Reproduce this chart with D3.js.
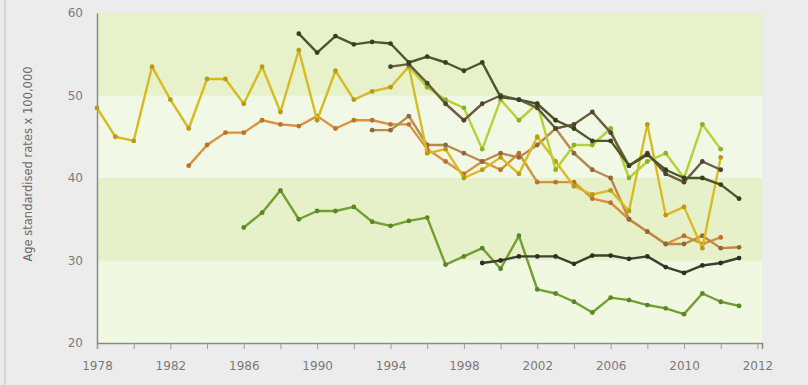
<!DOCTYPE html>
<html><head><meta charset="utf-8">
<script src="https://cdn.jsdelivr.net/npm/d3@7"></script>
<style>
html,body{margin:0;padding:0;background:#ececec;}
svg{display:block;}
</style></head>
<body>
<svg id="chart" width="808" height="385"></svg>
<script>
// ---- data ----
const yTicks = [20, 30, 40, 50, 60];
const xTickYears = [1978, 1982, 1986, 1990, 1994, 1998, 2002, 2006, 2010, 2014];
const xTickLabels = ["1978", "1982", "1986", "1990", "1994", "1998", "2002", "2006", "2010", "2012"];
const yLabel = "Age standardised rates x 100,000";

const goldStart = 1978;
const goldValues = [48.5, 45, 44.5, 53.5, 49.5, 46, 52, 52, 49, 53.5, 48, 55.5, 47, 53, 49.5, 50.5, 51, 53.5,
  43, 43.5, 40, 41, 42.5, 40.5, 45, 42, 39, 38, 38.5, 36, 46.5, 35.5, 36.5, 31.5, 42.5];

const orangeStart = 1983;
const orangeValues = [41.5, 44, 45.5, 45.5, 47, 46.5, 46.3, 47.5, 46, 47, 47, 46.5, 46.5, 43.5, 42, 40.5, 42,
  41, 43, 39.5, 39.5, 39.5, 37.5, 37, 35, 33.5, 32, 33, 32, 32.8];

const greenStart = 1986;
const greenValues = [34, 35.8, 38.5, 35, 36, 36, 36.5, 34.7, 34.2, 34.8, 35.2, 29.5, 30.5, 31.5, 29, 33,
  26.5, 26, 25, 23.7, 25.5, 25.2, 24.6, 24.2, 23.5, 26, 25, 24.5];

const oliveStart = 1989;
const oliveValues = [57.5, 55.2, 57.2, 56.2, 56.5, 56.3, 54, 54.7, 54, 53, 54, 49.8, 49.5, 49, 47, 46,
  44.5, 44.5, 41.5, 42.8, 41, 40, 40, 39.2, 37.5];

const brownStart = 1994;
const brownValues = [53.5, 53.8, 51.5, 49, 47, 49, 50, 49.5, 48.5, 46, 46.5, 48, 45.5, 41.5, 43, 40.5,
  39.5, 42, 41];

const limeStart = 1995;
const limeValues = [53.5, 51, 49.5, 48.5, 43.5, 49.5, 47, 49, 41, 44, 44, 46, 40, 42, 43, 40, 46.5, 43.5];

const tanStart = 1993;
const tanValues = [45.8, 45.8, 47.5, 44, 44, 43, 42, 43, 42.5, 44, 46, 43, 41, 40, 35, 33.5, 32, 32,
  33, 31.5, 31.6];

const darkStart = 1999;
const darkValues = [29.7, 30, 30.5, 30.5, 30.5, 29.6, 30.6, 30.6, 30.2, 30.5, 29.2, 28.5, 29.4, 29.7, 30.3];

const series = [
  {start: greenStart, values: greenValues, color: "#72a030", dot: "#5b8526"},
  {start: darkStart, values: darkValues, color: "#3f3f30", dot: "#2e2e22"},
  {start: orangeStart, values: orangeValues, color: "#d9923c", dot: "#b8742c"},
  {start: tanStart, values: tanValues, color: "#b98a48", dot: "#8f6a36"},
  {start: goldStart, values: goldValues, color: "#d8bb22", dot: "#b89a18"},
  {start: limeStart, values: limeValues, color: "#b4d234", dot: "#8fb024"},
  {start: brownStart, values: brownValues, color: "#6a5c3c", dot: "#4e4430"},
  {start: oliveStart, values: oliveValues, color: "#4c5628", dot: "#373f1c"}
];

// ---- chart ----
const svg = d3.select("#chart");
const x = d3.scaleLinear().domain([1978, 2014.25]).range([97, 762]);
const y = d3.scaleLinear().domain([20, 60]).range([343, 13]);

// frame line on the left edge
svg.append("line").attr("x1", 5).attr("x2", 5).attr("y1", 0).attr("y2", 385)
  .attr("stroke", "#bdbdbd").attr("stroke-width", 1);

// background bands
const bandColors = ["#f1f8e2", "#e6f1c9", "#f2f8e6", "#e7f2cb"];
for (let i = 0; i < yTicks.length - 1; i++) {
  svg.append("rect")
    .attr("x", x(1978)).attr("y", y(yTicks[i + 1]))
    .attr("width", x(2014.25) - x(1978))
    .attr("height", y(yTicks[i]) - y(yTicks[i + 1]))
    .attr("fill", bandColors[i]);
}

// axes
const evenYears = d3.range(1978, 2015, 2);
const xAxis = d3.axisBottom(x)
  .tickValues(evenYears)
  .tickSize(6)
  .tickFormat(d => { const k = xTickYears.indexOf(d); return k >= 0 ? xTickLabels[k] : ""; });
const gx = svg.append("g").attr("transform", `translate(0,${y(20)})`).call(xAxis);
gx.select(".domain").attr("stroke", "#8a8a8a").attr("stroke-width", 1.5);
gx.selectAll(".tick line").attr("stroke", "#9a9a9a");
gx.selectAll("text").attr("fill", "#7a7a7a").attr("font-family", "DejaVu Sans, Verdana, sans-serif")
  .attr("font-size", 12).attr("dy", "1.5em");

const yAxis = d3.axisLeft(y).tickValues(yTicks).tickSize(0).tickPadding(14);
const gy = svg.append("g").attr("transform", `translate(${x(1978)},0)`).call(yAxis);
gy.select(".domain").attr("stroke", "#8a8a8a").attr("stroke-width", 1.5);
gy.selectAll("text").attr("fill", "#7a7a7a").attr("font-family", "DejaVu Sans, Verdana, sans-serif")
  .attr("font-size", 12);

svg.append("text")
  .attr("transform", `translate(32,164) rotate(-90)`)
  .attr("text-anchor", "middle")
  .attr("fill", "#6a6a6a")
  .attr("font-family", "DejaVu Sans, Verdana, sans-serif")
  .attr("font-size", 11.5)
  .text(yLabel);

// series
const line = d3.line().x(d => x(d.year)).y(d => y(d.value));
const gSeries = svg.append("g");
series.forEach(s => {
  const pts = s.values.map((v, i) => ({year: s.start + i, value: v}));
  gSeries.append("path").datum(pts)
    .attr("d", line).attr("fill", "none")
    .attr("stroke", s.color).attr("stroke-width", 2.4)
    .attr("stroke-linejoin", "round");
  gSeries.selectAll(null).data(pts).enter().append("circle")
    .attr("cx", d => x(d.year)).attr("cy", d => y(d.value))
    .attr("r", 2.4).attr("fill", s.dot);
});
</script>
</body></html>
